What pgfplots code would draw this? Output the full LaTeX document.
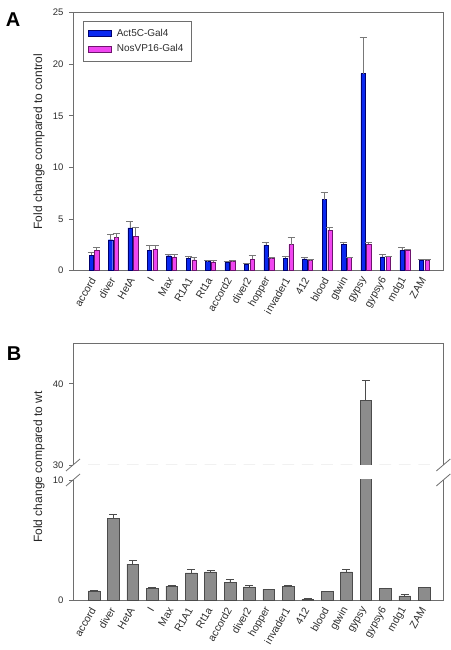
\documentclass[border=0pt]{standalone}
\usepackage{pgfplots}
\usepackage{pgfplotstable}
\pgfplotsset{compat=1.18}
\usepackage{fontspec}
\setmainfont{Liberation Sans}
\definecolor{axgray}{RGB}{110,110,110}
\definecolor{txtgray}{RGB}{45,45,45}
\definecolor{actblue}{RGB}{10,40,240}
\definecolor{actedge}{RGB}{0,0,110}
\definecolor{nosmag}{RGB}{240,70,240}
\definecolor{nosedge}{RGB}{110,20,110}
\definecolor{barB}{RGB}{140,140,140}
\definecolor{edgeB}{RGB}{75,75,75}
\definecolor{errgray}{RGB}{120,120,120}

\pgfplotstableread{
x act acterr nos noserr
0  1.50 0.25 2.00 0.22
1  3.00 0.50 3.20 0.40
2  4.15 0.62 3.35 0.82
3  2.00 0.45 2.10 0.35
4  1.45 0.16 1.33 0.22
5  1.20 0.15 1.06 0.20
6  0.90 0.05 0.85 0.14
7  0.80 0.10 0.90 0.05
8  0.65 0.05 1.12 0.38
9  2.45 0.28 1.18 0.08
10 1.22 0.12 2.53 0.71
11 1.14 0.14 1.04 0.04
12 6.88 0.66 3.92 0.25
13 2.58 0.15 1.26 0.03
14 19.10 3.48 2.56 0.16
15 1.35 0.19 1.39 0.04
16 1.98 0.23 2.03 0.04
17 1.04 0.08 0.98 0.13
}\dataA

\pgfplotstableread{
x val err
0  0.81 0.05
1  6.82 0.36
2  3.02 0.32
3  1.03 0.06
4  1.20 0.05
5  2.30 0.32
6  2.39 0.14
7  1.52 0.21
8  1.14 0.14
9  0.94 0.03
10 1.16 0.09
11 0.13 0.03
12 0.76 0.03
13 2.39 0.17
14 37.98 2.42
15 1.03 0.03
16 0.40 0.14
17 1.09 0.03
}\dataB

\pgfplotsset{
  common/.style={
    scale only axis, width=370bp,
    xmin=-1.08, xmax=17.97,
    axis line style={axgray, line width=0.8bp},
    every outer x axis line/.append style={-},
    every outer y axis line/.append style={-},
    every inner x axis line/.append style={-},
    every inner y axis line/.append style={-},
    ytick style={axgray, line width=0.8bp},
    tick align=outside, major tick length=4bp,
    xtick style={draw=none},
    /pgf/number format/assume math mode=true,
    y tick label style={font=\fontsize{9.5bp}{11bp}\selectfont, text=txtgray, xshift=-2bp},
    x tick label style={font=\fontsize{10.5bp}{12bp}\selectfont, text=txtgray, rotate=60, anchor=east, yshift=-1bp},
    xtick={0,...,17},
    xticklabels={accord,diver,HetA,I,Max,R1A1,Rt1a,accord2,diver2,hopper,invader1,412,blood,gtwin,gypsy,gypsy6,mdg1,ZAM},
  },
}

\begin{document}
\begin{tikzpicture}
\path[use as bounding box] (0,0) rectangle (451bp,650bp);

% ---------------- Panel A ----------------
\begin{axis}[common,
  at={(73bp,379.3bp)}, anchor=south west, height=258bp,
  ymin=0, ymax=25, ytick={0,5,10,15,20,25}, ytick pos=left,
  ybar,
  ylabel={Fold change compared to control},
  every axis y label/.style={at={(axis description cs:-0.092,0.5)}, rotate=90, anchor=center,
    font=\fontsize{12bp}{14bp}\selectfont, text=black!85},
  legend style={at={(0.026,0.967)}, anchor=north west, draw=axgray, line width=0.6bp,
    font=\fontsize{10bp}{12bp}\selectfont, text=txtgray, inner xsep=5.5bp, inner ysep=5.5bp,
    row sep=3bp, cells={anchor=west}},
  legend image code/.code={\draw[#1, line width=0.4bp] (0bp,-3.3bp) rectangle (23bp,3.3bp); \path (26bp,0bp);},
]
\addplot[ybar, bar width=0.22, bar shift=-0.146, fill=actblue, draw=actedge, line width=0.4bp,
  error bars/.cd, y dir=plus, y explicit,
  error bar style={errgray, line width=0.8bp},
  error mark options={rotate=90, errgray, mark size=3.5bp, line width=0.8bp}]
  table[x=x, y=act, y error=acterr]{\dataA};
\addlegendentry{Act5C-Gal4}
\addplot[ybar, bar width=0.22, bar shift=0.146, fill=nosmag, draw=nosedge, line width=0.4bp,
  error bars/.cd, y dir=plus, y explicit,
  error bar style={errgray, line width=0.8bp},
  error mark options={rotate=90, errgray, mark size=3.5bp, line width=0.8bp}]
  table[x=x, y=nos, y error=noserr]{\dataA};
\addlegendentry{NosVP16-Gal4}
\end{axis}

% ---------------- Panel B, upper segment ----------------
\begin{axis}[common,
  at={(73bp,185bp)}, anchor=south west, height=121.7bp,
  ymin=30, ymax=45, ytick={30,40},
  axis x line*=top, axis y line*=box, ytick pos=left,
  xtick=\empty,
  ybar,
]
\addplot[ybar, bar width=0.6, bar shift=0, fill=barB, draw=edgeB, line width=0.5bp,
  error bars/.cd, y dir=plus, y explicit,
  error bar style={edgeB, line width=0.8bp},
  error mark options={rotate=90, edgeB, mark size=4bp, line width=0.8bp}]
  table[x=x, y=val, y error=err]{\dataB};
\end{axis}

% ---------------- Panel B, lower segment ----------------
\begin{axis}[common,
  at={(73bp,49.3bp)}, anchor=south west, height=120.7bp,
  ymin=0, ymax=10, ytick={0,10},
  axis x line*=bottom, axis y line*=box, ytick pos=left,
  ybar,
  ylabel={Fold change compared to wt},
  every axis y label/.style={at={(axis description cs:-0.092,1.108)}, rotate=90, anchor=center,
    font=\fontsize{12bp}{14bp}\selectfont, text=black!85},
]
\addplot[ybar, bar width=0.6, bar shift=0, fill=barB, draw=edgeB, line width=0.5bp,
  error bars/.cd, y dir=plus, y explicit,
  error bar style={edgeB, line width=0.8bp},
  error mark options={rotate=90, edgeB, mark size=4bp, line width=0.8bp}]
  table[x=x, y=val, y error=err]{\dataB};
\end{axis}

% axis break marks
\foreach \xx in {73,443.3}{
  \draw[axgray, line width=0.8bp] (\xx bp-7bp,179bp) -- (\xx bp+7bp,191bp);
  \draw[axgray, line width=0.8bp] (\xx bp-7bp,164bp) -- (\xx bp+7bp,176bp);
}

% panel letters
\node[font=\bfseries\fontsize{20bp}{20bp}\selectfont] at (13bp,630bp) {A};
\node[font=\bfseries\fontsize{20bp}{20bp}\selectfont] at (14bp,296bp) {B};
\end{tikzpicture}
\end{document}
